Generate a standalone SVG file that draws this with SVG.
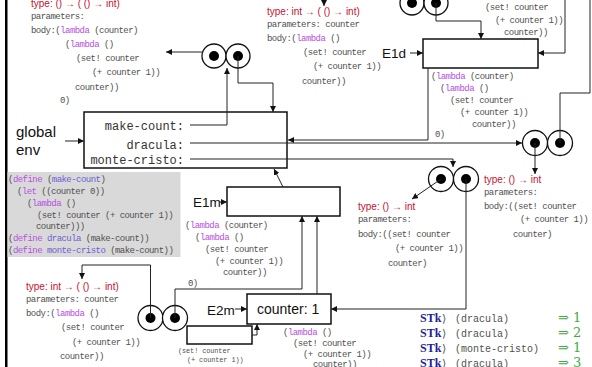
<svg xmlns="http://www.w3.org/2000/svg" width="592" height="367" viewBox="0 0 592 367">
  <style>
    .code { font-family: "Liberation Mono", "DejaVu Sans Mono", monospace; font-size: 9px; letter-spacing: -0.54px; fill: #505050; }
    .small { font-family: "Liberation Mono", "DejaVu Sans Mono", monospace; font-size: 6.9px; letter-spacing: -0.1px; fill: #505050; }
    .bind { font-family: "Liberation Mono", "DejaVu Sans Mono", monospace; font-size: 12px; fill: #333; text-anchor: end; }
    .type { font-family: "Liberation Sans", Arial, sans-serif; font-size: 10px; fill: #c41230; }
    .kw { fill: #b84fe0; }
    .name { fill: #6b5fd4; }
    .label { font-family: "Liberation Sans", Arial, sans-serif; font-size: 13.5px; fill: #111; }
    .big { font-family: "Liberation Sans", Arial, sans-serif; font-size: 15px; fill: #111; }
    .frame { fill: #fff; stroke: #111; stroke-width: 1.5; }
    .cell { fill: #fff; stroke: #111; stroke-width: 1.3; }
    .dot { fill: #000; }
    .wire { fill: none; stroke: #222; stroke-width: 1; }
    .arrow { marker-end: url(#head); }
    .stk { font-family: "Liberation Serif", "DejaVu Serif", serif; font-size: 12px; font-weight: bold; fill: #1f1f96; }
    .prompt { font-family: "DejaVu Serif", "Liberation Serif", serif; font-size: 11px; fill: #555; }
    .repl { font-family: "Liberation Mono", "DejaVu Sans Mono", monospace; font-size: 10px; fill: #505050; }
    .res { font-family: "DejaVu Serif", "Liberation Serif", serif; font-size: 13px; fill: #3faa3f; }
  </style>
  <defs>
    <marker id="head" markerUnits="userSpaceOnUse" markerWidth="7" markerHeight="6" refX="6" refY="3" orient="auto">
      <path d="M0,0 L6,3 L0,6 z" fill="#111"/>
    </marker>
  </defs>

  <!-- left margin rule -->
  <rect x="5" y="0" width="2.5" height="367" fill="#000"/>

  <!-- source listing -->
  <g id="source">
    <rect x="7.5" y="172" width="173" height="85" fill="#d9d9d9"/>
    <text class="code" x="8" y="182">(<tspan class="kw">define</tspan> (<tspan class="name">make-count</tspan>)</text>
    <text class="code" x="17" y="194">(<tspan class="kw">let</tspan> ((counter 0))</text>
    <text class="code" x="27" y="206">(<tspan class="kw">lambda</tspan> ()</text>
    <text class="code" x="37" y="218">(set! counter (+ counter 1))</text>
    <text class="code" x="36" y="229">counter)))</text>
    <text class="code" x="8" y="241">(<tspan class="kw">define</tspan> <tspan class="name">dracula</tspan> (make-count))</text>
    <text class="code" x="8" y="253">(<tspan class="kw">define</tspan> <tspan class="name">monte-cristo</tspan> (make-count))</text>
  </g>

  <!-- global environment -->
  <g id="global-env">
    <text class="big" x="16" y="137">global</text>
    <text class="big" x="16" y="155">env</text>
    <rect class="frame" x="84" y="112" width="203" height="56"/>
    <text class="bind" x="184" y="130">make-count:</text>
    <text class="bind" x="184" y="149">dracula:</text>
    <text class="bind" x="184" y="164">monte-cristo:</text>
  </g>

  <!-- procedure text: make-count -->
  <g id="proc-make-count">
    <text class="type" x="31" y="7">type: () → ( () → int)</text>
    <text class="code" x="31" y="19">parameters:</text>
    <text class="code" x="31" y="33">body:(<tspan class="kw">lambda</tspan> (counter)</text>
    <text class="code" x="65" y="47">(<tspan class="kw">lambda</tspan> ()</text>
    <text class="code" x="76" y="61">(set! counter</text>
    <text class="code" x="92" y="75">(+ counter 1))</text>
    <text class="code" x="75" y="90">counter))</text>
    <text class="code" x="60" y="103">0)</text>
  </g>

  <!-- closure pair: make-count -->
  <g id="pair-make-count">
    <circle class="cell" cx="214" cy="56" r="12"/>
    <circle class="cell" cx="238" cy="56" r="12"/>
    <circle class="dot" cx="214" cy="56" r="5"/>
    <circle class="dot" cx="238" cy="56" r="5"/>
  </g>

  <!-- procedure text: inner lambda (top) -->
  <g id="proc-top">
    <text class="type" x="267" y="15">type: int → ( () → int)</text>
    <text class="code" x="267" y="27">parameters: counter</text>
    <text class="code" x="267" y="41">body:(<tspan class="kw">lambda</tspan> ()</text>
    <text class="code" x="303" y="55">(set! counter</text>
    <text class="code" x="313" y="69">(+ counter 1))</text>
    <text class="code" x="302" y="84">counter))</text>
  </g>

  <!-- closure pair: top right -->
  <g id="pair-top-right">
    <circle class="cell" cx="412" cy="3" r="12"/>
    <circle class="cell" cx="436" cy="3" r="12"/>
    <circle class="dot" cx="412" cy="3" r="5"/>
    <circle class="dot" cx="436" cy="3" r="5"/>
    <text class="code" x="485" y="10">(set! counter</text>
    <text class="code" x="495" y="23">(+ counter 1))</text>
    <text class="code" x="504" y="35">counter))</text>
  </g>

  <!-- frame E1d -->
  <g id="E1d">
    <text class="label" x="382" y="58">E1d</text>
    <rect class="frame" x="423" y="39" width="115" height="29"/>
    <text class="code" x="431" y="79">(<tspan class="kw">lambda</tspan> (counter)</text>
    <text class="code" x="440" y="91">(<tspan class="kw">lambda</tspan> ()</text>
    <text class="code" x="450" y="103">(set! counter</text>
    <text class="code" x="460" y="115">(+ counter 1))</text>
    <text class="code" x="472" y="127">counter))</text>
    <text class="code" x="435" y="137">0)</text>
  </g>

  <!-- closure pair: dracula -->
  <g id="pair-dracula">
    <circle class="cell" cx="535" cy="143" r="12.5"/>
    <circle class="cell" cx="560" cy="143" r="12.5"/>
    <circle class="dot" cx="535" cy="143" r="5"/>
    <circle class="dot" cx="560" cy="143" r="5"/>
    <text class="type" x="484" y="183">type: () →  int</text>
    <text class="code" x="484" y="195">parameters:</text>
    <text class="code" x="484" y="209">body:((set! counter</text>
    <text class="code" x="520" y="222">(+ counter 1))</text>
    <text class="code" x="513" y="237">counter)</text>
  </g>

  <!-- closure pair: monte-cristo -->
  <g id="pair-monte-cristo">
    <circle class="cell" cx="441" cy="179" r="12.5"/>
    <circle class="cell" cx="466" cy="179" r="12.5"/>
    <circle class="dot" cx="441" cy="179" r="5"/>
    <circle class="dot" cx="466" cy="179" r="5"/>
    <text class="type" x="358" y="210">type: () →  int</text>
    <text class="code" x="358" y="222">parameters:</text>
    <text class="code" x="358" y="237">body:((set! counter</text>
    <text class="code" x="395" y="251">(+ counter 1))</text>
    <text class="code" x="388" y="266">counter)</text>
  </g>

  <!-- frame E1m -->
  <g id="E1m">
    <text class="label" x="193" y="207">E1m</text>
    <rect class="frame" x="227" y="187" width="113" height="29"/>
    <text class="code" x="185" y="228">(<tspan class="kw">lambda</tspan> (counter)</text>
    <text class="code" x="195" y="240">(<tspan class="kw">lambda</tspan> ()</text>
    <text class="code" x="205" y="252">(set! counter</text>
    <text class="code" x="215" y="264">(+ counter 1))</text>
    <text class="code" x="223" y="275">counter))</text>
    <text class="code" x="188" y="286">0)</text>
  </g>

  <!-- procedure text: inner lambda (bottom) -->
  <g id="proc-bottom">
    <text class="type" x="26" y="290">type: int → ( () → int)</text>
    <text class="code" x="26" y="302">parameters: counter</text>
    <text class="code" x="26" y="316">body:(<tspan class="kw">lambda</tspan> ()</text>
    <text class="code" x="61" y="330">(set! counter</text>
    <text class="code" x="72" y="345">(+ counter 1))</text>
    <text class="code" x="60" y="359">counter))</text>
  </g>

  <!-- closure pair: bottom left -->
  <g id="pair-bottom">
    <circle class="cell" cx="150.5" cy="318" r="12.5"/>
    <circle class="cell" cx="175" cy="318" r="12.5"/>
    <circle class="dot" cx="150.5" cy="318" r="5"/>
    <circle class="dot" cx="175" cy="318" r="5"/>
  </g>

  <!-- frame E2m -->
  <g id="E2m">
    <text class="label" x="207" y="315">E2m</text>
    <rect class="frame" x="247" y="294" width="84" height="30"/>
    <text class="big" x="257" y="314" style="font-size:14px">counter: 1</text>
    <text class="code" x="283" y="335">(<tspan class="kw">lambda</tspan> ()</text>
    <text class="code" x="293" y="346">(set! counter</text>
    <text class="code" x="303" y="357">(+ counter 1))</text>
    <text class="code" x="313" y="367">counter))</text>
  </g>

  <!-- small frame below E2m -->
  <g id="E3m">
    <rect class="frame" x="187" y="326" width="65" height="18"/>
    <text class="small" x="178" y="353">(set! counter</text>
    <text class="small" x="187" y="362">(+ counter 1))</text>
  </g>

  <!-- interaction transcript -->
  <g id="transcript">
    <text class="stk" x="420" y="322">STk</text><text class="prompt" x="442" y="322">⟩</text>
    <text class="repl" x="455" y="322">(dracula)</text><text class="res" x="558" y="322">⇒ 1</text>
    <text class="stk" x="420" y="337">STk</text><text class="prompt" x="442" y="337">⟩</text>
    <text class="repl" x="455" y="337">(dracula)</text><text class="res" x="558" y="337">⇒ 2</text>
    <text class="stk" x="420" y="352">STk</text><text class="prompt" x="442" y="352">⟩</text>
    <text class="repl" x="455" y="352">(monte-cristo)</text><text class="res" x="558" y="352">⇒ 1</text>
    <text class="stk" x="420" y="367">STk</text><text class="prompt" x="442" y="367">⟩</text>
    <text class="repl" x="455" y="367">(dracula)</text><text class="res" x="558" y="367">⇒ 3</text>
  </g>

  <!-- pointers -->
  <g id="connectors">
    <path class="wire arrow" d="M65,141 H84"/>
    <path class="wire arrow" d="M410,53 H423"/>
    <path class="wire arrow" d="M219,202 H227"/>
    <path class="wire arrow" d="M235,309 H247"/>
    <path class="wire arrow" d="M202,52 H166"/>
    <path class="wire arrow" d="M238,56 V83 H273 V112"/>
    <path class="wire arrow" d="M190,125 H227 V68"/>
    <path class="wire arrow" d="M190,143 H522"/>
    <path class="wire arrow" d="M428,68 V140 H288"/>
    <path class="wire arrow" d="M190,159 H453 V167"/>
    <path class="wire arrow" d="M283,187 L274,169"/>
    <path class="wire arrow" d="M436,3 V21 H481 V39"/>
    <path class="wire arrow" d="M565,0 V53 H538"/>
    <path class="wire" d="M560,143 V93 H590 V0"/>
    <path class="wire arrow" d="M535,143 V174"/>
    <path class="wire arrow" d="M441,179 L412,199"/>
    <path class="wire arrow" d="M466,179 V309 H331"/>
    <path class="wire arrow" d="M150.5,318 V265 H82 V279"/>
    <path class="wire arrow" d="M175,318 V289 H302 V216"/>
    <path class="wire arrow" d="M317,294 V216"/>
    <path class="wire arrow" d="M252,335 H257 V324"/>
    <path class="wire arrow" d="M324,-5 V6"/>
  </g>
</svg>
